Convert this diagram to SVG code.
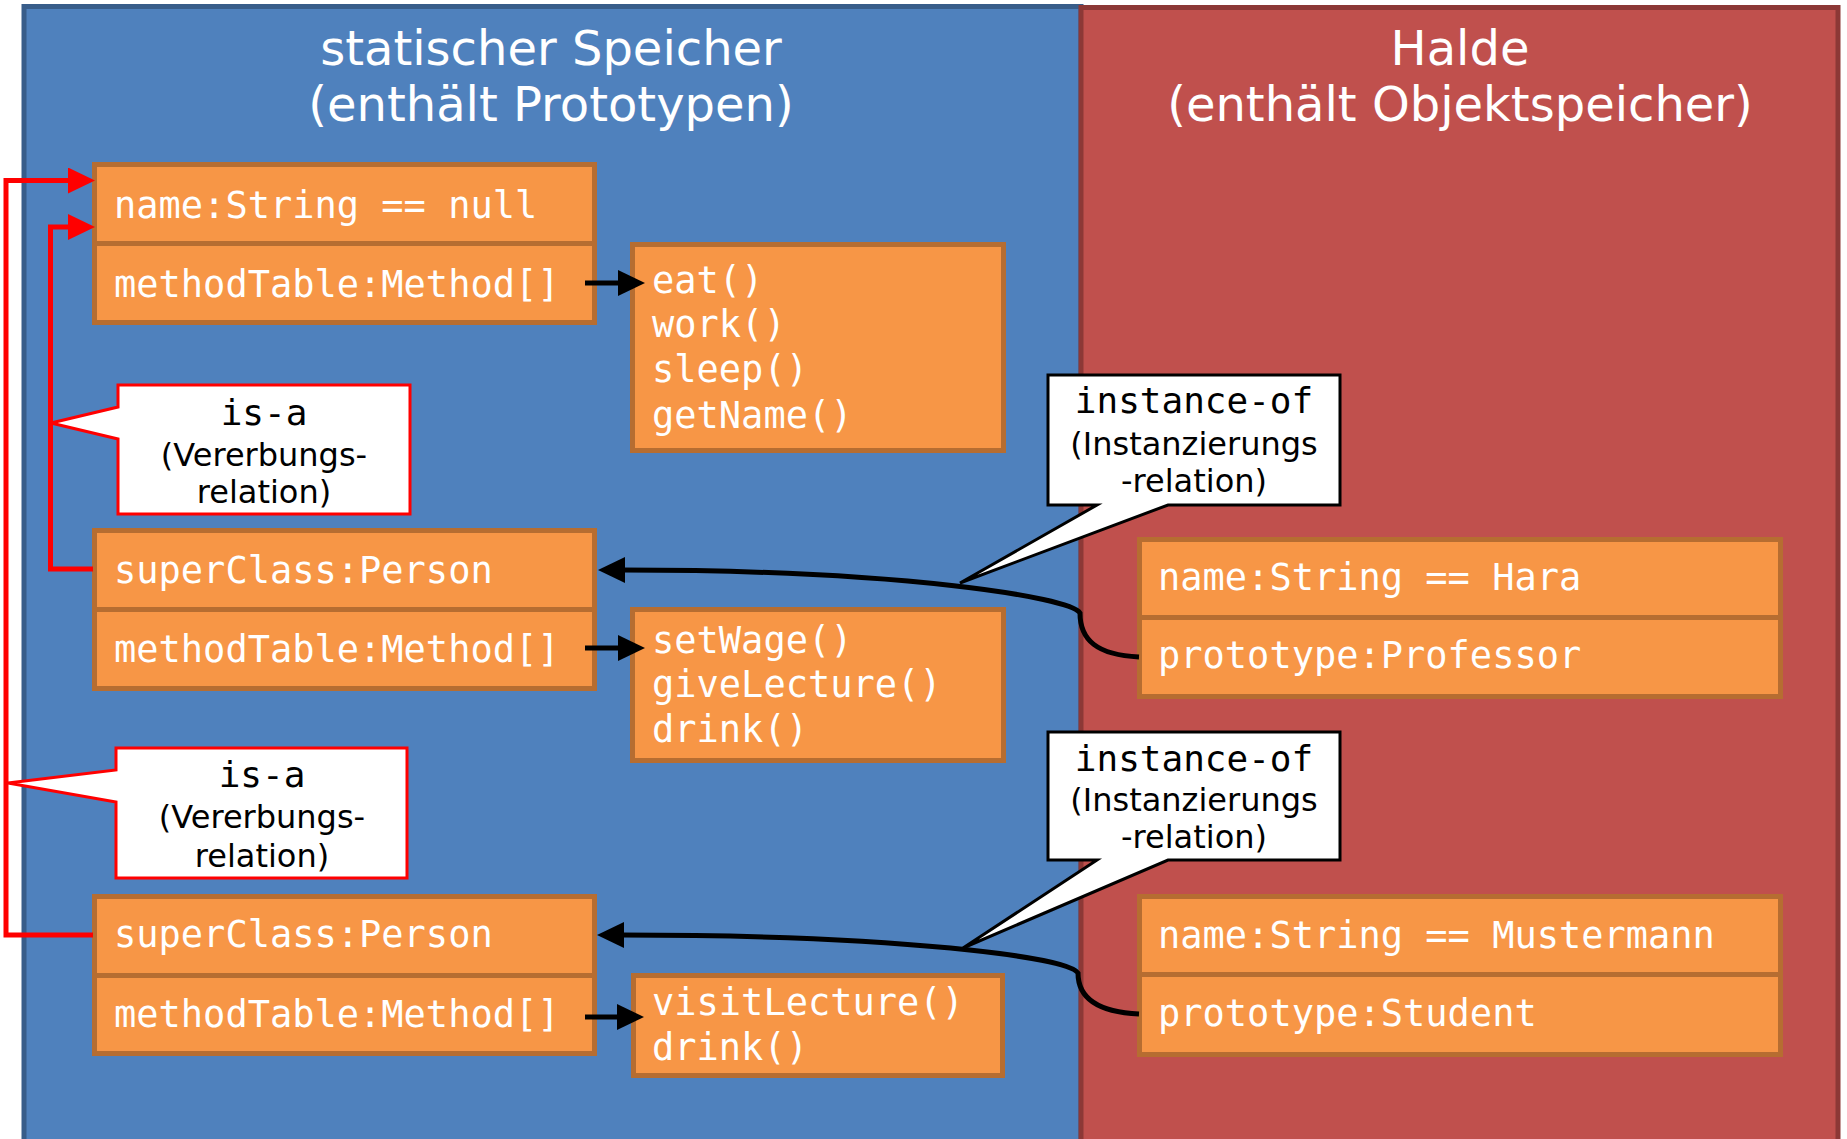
<svg xmlns="http://www.w3.org/2000/svg" width="1847" height="1139" viewBox="0 0 1847 1139">
<style>
.code{font-family:"DejaVu Sans Mono","Liberation Mono",monospace;font-size:37px;fill:#ffffff}
.meth{font-family:"DejaVu Sans Mono","Liberation Mono",monospace;font-size:37px;fill:#ffffff}
.cell{fill:#F79646;stroke:#B66D31;stroke-width:5}
.title{font-family:"DejaVu Sans","Liberation Sans",sans-serif;font-size:48px;fill:#ffffff;text-anchor:middle}
.ctitle{font-family:"DejaVu Sans Mono","Liberation Mono",monospace;font-size:36px;fill:#000000;text-anchor:middle}
.csub{font-family:"DejaVu Sans","Liberation Sans",sans-serif;font-size:32px;fill:#000000;text-anchor:middle}
.isa{fill:#ffffff;stroke:#FF0000;stroke-width:3}
.inst{fill:#ffffff;stroke:#000000;stroke-width:3}
.blk{fill:none;stroke:#000000;stroke-width:5}
.red{fill:none;stroke:#FF0000;stroke-width:5}
</style>
<defs>
<marker id="ab" markerUnits="userSpaceOnUse" markerWidth="28" markerHeight="28" refX="2" refY="13" orient="auto">
<path d="M0,0 L27,13 L0,26 Z" fill="#000000"/>
</marker>
<marker id="ar" markerUnits="userSpaceOnUse" markerWidth="28" markerHeight="28" refX="2" refY="13" orient="auto">
<path d="M0,0 L27,13 L0,26 Z" fill="#FF0000"/>
</marker>
</defs>
<rect x="0" y="0" width="1847" height="1139" fill="#ffffff"/>

<g id="static-memory">
<rect x="24" y="6.5" width="1057" height="1145" fill="#4F81BD" stroke="#385D8A" stroke-width="5"/>
<text class="title" x="551" y="65">statischer Speicher</text>
<text class="title" x="551" y="121">(enthält Prototypen)</text>
</g>
<g id="heap">
<rect x="1081" y="7.5" width="757" height="1145" fill="#C0504D" stroke="#8C3836" stroke-width="5"/>
<text class="title" x="1460" y="65">Halde</text>
<text class="title" x="1460" y="121">(enthält Objektspeicher)</text>
</g>

<g id="proto-person">
<rect class="cell" x="94.5" y="164.5" width="500" height="79"/>
<rect class="cell" x="94.5" y="243.5" width="500" height="79"/>
<text class="code" x="114" y="218">name:String == null</text>
<text class="code" x="114" y="297">methodTable:Method[]</text>
</g>
<g id="methods-person">
<rect class="cell" x="632.5" y="244.5" width="371" height="206"/>
<text class="meth" x="652" y="293">eat()</text>
<text class="meth" x="652" y="337">work()</text>
<text class="meth" x="652" y="382">sleep()</text>
<text class="meth" x="652" y="428">getName()</text>
</g>

<g id="proto-professor">
<rect class="cell" x="94.5" y="530.5" width="500" height="79"/>
<rect class="cell" x="94.5" y="609.5" width="500" height="79"/>
<text class="code" x="114" y="583">superClass:Person</text>
<text class="code" x="114" y="662">methodTable:Method[]</text>
</g>
<g id="methods-professor">
<rect class="cell" x="632.5" y="609.5" width="371" height="151"/>
<text class="meth" x="652" y="653">setWage()</text>
<text class="meth" x="652" y="697">giveLecture()</text>
<text class="meth" x="652" y="742">drink()</text>
</g>

<g id="proto-student">
<rect class="cell" x="94.5" y="896.5" width="500" height="79"/>
<rect class="cell" x="94.5" y="975.5" width="500" height="78"/>
<text class="code" x="114" y="947">superClass:Person</text>
<text class="code" x="114" y="1027">methodTable:Method[]</text>
</g>
<g id="methods-student">
<rect class="cell" x="633.5" y="975.5" width="369" height="100"/>
<text class="meth" x="652" y="1015">visitLecture()</text>
<text class="meth" x="652" y="1060">drink()</text>
</g>

<g id="obj-hara">
<rect class="cell" x="1139.5" y="539.5" width="641" height="78"/>
<rect class="cell" x="1139.5" y="617.5" width="641" height="79"/>
<text class="code" x="1158" y="590">name:String == Hara</text>
<text class="code" x="1158" y="668">prototype:Professor</text>
</g>
<g id="obj-mustermann">
<rect class="cell" x="1139.5" y="896.5" width="641" height="78"/>
<rect class="cell" x="1139.5" y="974.5" width="641" height="80"/>
<text class="code" x="1158" y="948">name:String == Mustermann</text>
<text class="code" x="1158" y="1026">prototype:Student</text>
</g>

<g id="label-isa-1">
<path class="isa" d="M118,385 H410 V514 H118 V439 L51,423 L118,407 Z"/>
<text class="ctitle" x="264" y="425">is-a</text>
<text class="csub" x="264" y="466">(Vererbungs-</text>
<text class="csub" x="264" y="503">relation)</text>
</g>
<g id="label-isa-2">
<path class="isa" d="M116,748 H407 V878 H116 V802 L8,783 L116,770 Z"/>
<text class="ctitle" x="262" y="787">is-a</text>
<text class="csub" x="262" y="828">(Vererbungs-</text>
<text class="csub" x="262" y="867">relation)</text>
</g>
<g id="label-instance-1">
<path class="inst" d="M1048,375 H1340 V505 H1168 L960,583 L1097,505 H1048 Z"/>
<text class="ctitle" x="1194" y="413">instance-of</text>
<text class="csub" x="1194" y="455">(Instanzierungs</text>
<text class="csub" x="1194" y="492">-relation)</text>
</g>
<g id="label-instance-2">
<path class="inst" d="M1048,732 H1340 V860 H1168 L963,948 L1097,860 H1048 Z"/>
<text class="ctitle" x="1194" y="771">instance-of</text>
<text class="csub" x="1194" y="811">(Instanzierungs</text>
<text class="csub" x="1194" y="848">-relation)</text>
</g>

<g id="connectors">
<path class="blk" d="M585,283 H620" marker-end="url(#ab)"/>
<path class="blk" d="M585,648 H620" marker-end="url(#ab)"/>
<path class="blk" d="M585,1017 H619" marker-end="url(#ab)"/>
<path class="blk" d="M1139,657 C1097,655 1080,640 1080,613 C1070,597 900,570 623,570" marker-end="url(#ab)"/>
<path class="blk" d="M1139,1014 C1097,1012 1078,998 1078,973 C1068,957 900,935 622,935" marker-end="url(#ab)"/>
<path class="red" d="M93,569 H50.5 V227 H70" marker-end="url(#ar)"/>
<path class="red" d="M93,935 H6 V180.5 H70" marker-end="url(#ar)"/>
</g>
</svg>
